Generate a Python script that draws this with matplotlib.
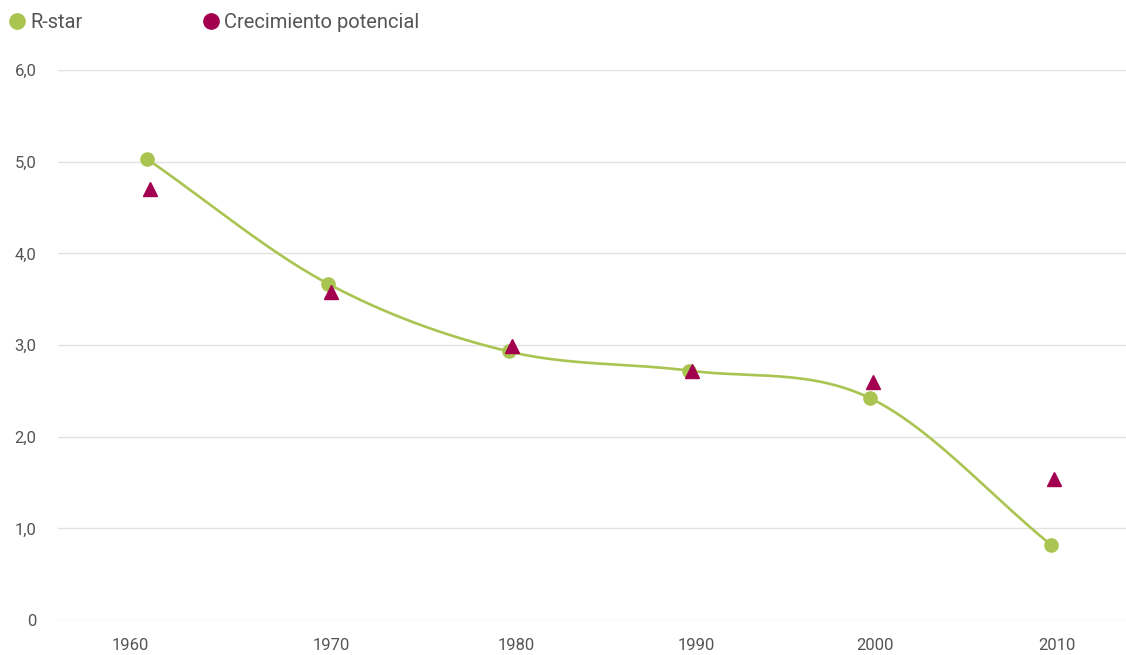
import numpy as np
import matplotlib
matplotlib.use("Agg")
import matplotlib.pyplot as plt
import matplotlib.transforms as mtransforms
from matplotlib.lines import Line2D

# data
years = [1960, 1970, 1980, 1990, 2000, 2010]
r_star = [5.03, 3.67, 2.93, 2.72, 2.42, 0.82]
crecimiento = [4.70, 3.58, 2.99, 2.72, 2.60, 1.54]
y_ticks = [0, 1, 2, 3, 4, 5, 6]
y_tick_labels = ["0", "1,0", "2,0", "3,0", "4,0", "5,0", "6,0"]
series_names = ["R-star", "Crecimiento potencial"]

GREEN = "#aac451"
PURPLE = "#a3004f"
TEXT = "#555555"
GRID = "#e3e1de"

plt.rcParams['font.family'] = ['Roboto', 'DejaVu Sans']


def smooth(x, y, n=50):
    # cubic hermite curve with catmull-rom style tangents
    x = np.asarray(x, float)
    y = np.asarray(y, float)
    m = np.gradient(y, x)
    xs, ys = [], []
    for i in range(len(x) - 1):
        h = x[i + 1] - x[i]
        t = np.linspace(0, 1, n)
        h00 = 2 * t**3 - 3 * t**2 + 1
        h10 = t**3 - 2 * t**2 + t
        h01 = -2 * t**3 + 3 * t**2
        h11 = t**3 - t**2
        xs.append(x[i] + t * h)
        ys.append(h00 * y[i] + h10 * h * m[i] + h01 * y[i + 1] + h11 * h * m[i + 1])
    return np.concatenate(xs), np.concatenate(ys)


fig = plt.figure(figsize=(11.26, 6.55), dpi=100)
ax = fig.add_axes([58 / 1126, 35 / 655, 1 - 58 / 1126, 550 / 655])

sx, sy = smooth(years, r_star)
ax.plot(sx, sy, color=GREEN, lw=1.9, zorder=2, solid_capstyle='round')
ax.plot(years, r_star, 'o', ms=9.5, color=GREEN, zorder=3)

# triangles sit a couple of pixels right of the circles
shift = ax.transData + mtransforms.ScaledTranslation(3 / 100, 0, fig.dpi_scale_trans)
ax.plot(years, crecimiento, '^', ms=9.5, color=PURPLE, zorder=4, transform=shift)

ax.set_xlim(1955.08, 2014.15)
ax.set_ylim(0, 6)
ax.set_xticks(years)
ax.set_xticklabels([str(y) for y in years])
ax.set_yticks(y_ticks)
ax.set_yticklabels(y_tick_labels)

for s in ax.spines.values():
    s.set_visible(False)
ax.yaxis.grid(True, color=GRID, lw=1)
ax.set_axisbelow(True)
ax.tick_params(axis='both', length=0, labelsize=12, labelcolor=TEXT)
ax.tick_params(axis='x', pad=13)
ax.tick_params(axis='y', pad=15.5)

# year labels in the original drift a little from the points
label_shift = [-0.17, 0.04, 0.08, 0.07, 0.05, 0.06]
for lbl, dx in zip(ax.get_xticklabels(), label_shift):
    lbl.set_transform(lbl.get_transform() + mtransforms.ScaledTranslation(dx, 0, fig.dpi_scale_trans))

handles = [
    Line2D([], [], ls='none', marker='o', ms=11, color=GREEN),
    Line2D([], [], ls='none', marker='o', ms=11, color=PURPLE),
]
fig.legend(handles, series_names, loc='upper left', bbox_to_anchor=(0.002, 0.992),
           ncol=2, frameon=False, fontsize=14.5, labelcolor=TEXT, borderaxespad=0,
           handlelength=0.7, handletextpad=0.3, columnspacing=6.0)

fig.savefig("out.png", dpi=100)
